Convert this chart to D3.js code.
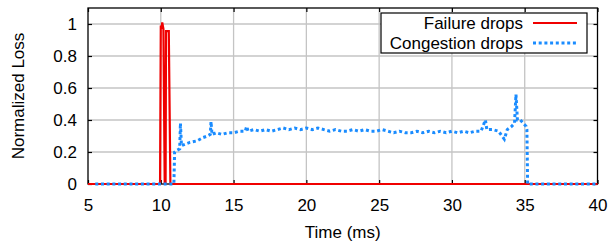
<!DOCTYPE html>
<html lang="en">
<head>
<meta charset="utf-8">
<title>Loss</title>
<script src="https://d3js.org/d3.v7.min.js"></script>
<style>
  body { margin: 0; background: #fff; }
  svg { display: block; font-family: "Liberation Sans", Arial, sans-serif; }
  .grid line { stroke: #c4c4c4; stroke-width: 1.3; }
  .axis path { display: none; }
  .axis line { stroke: #000; stroke-width: 1.2; }
  .axis text { font-size: 17px; fill: #000; font-family: "Liberation Sans", Arial, sans-serif; }
</style>
</head>
<body>
<script>
// data
var xTicks = [5, 10, 15, 20, 25, 30, 35, 40];
var yTicks = [0, 0.2, 0.4, 0.6, 0.8, 1];

var failureTime = [5, 9.95, 10.0, 10.05, 10.1, 10.18, 10.27, 10.33, 10.36, 10.55, 10.66, 40];
var failureLoss = [0, 0, 0.99, 0.97, 1.01, 0.97, 0, 0, 0.955, 0.955, 0, 0];

var congestionTime = [5.5, 10.9, 10.95, 11.1, 11.3, 11.35, 11.42, 11.7, 12.0, 12.5, 12.9, 13.2, 13.4, 13.45, 13.52,
  13.8, 14.2, 14.6, 15.0, 15.4, 15.8, 15.9, 16.0, 16.4, 16.8, 17.2, 17.6, 18.0, 18.4, 18.8, 19.2, 19.6,
  20.0, 20.4, 20.8, 21.2, 21.6, 22.0, 22.4, 22.8, 23.2, 23.6, 24.0, 24.4, 24.8, 25.2, 25.6, 26.0, 26.4,
  26.8, 27.2, 27.6, 28.0, 28.4, 28.8, 29.2, 29.6, 30.0, 30.4, 30.8, 31.2, 31.6, 32.0, 32.3, 32.4, 32.8,
  33.2, 33.6, 33.8, 34.1, 34.3, 34.4, 34.5, 34.7, 34.9, 35.1, 35.15, 35.2, 40];
var congestionLoss = [0, 0, 0.2, 0.21, 0.22, 0.38, 0.24, 0.25, 0.26, 0.27, 0.29, 0.30, 0.31, 0.39, 0.31,
  0.32, 0.31, 0.32, 0.32, 0.33, 0.33, 0.36, 0.33, 0.34, 0.33, 0.34, 0.33, 0.34, 0.35, 0.34, 0.35, 0.34,
  0.35, 0.34, 0.35, 0.34, 0.33, 0.34, 0.33, 0.33, 0.34, 0.33, 0.34, 0.33, 0.33, 0.34, 0.33, 0.32, 0.33,
  0.32, 0.32, 0.33, 0.32, 0.33, 0.32, 0.33, 0.32, 0.33, 0.32, 0.33, 0.32, 0.33, 0.33, 0.40, 0.34, 0.34,
  0.33, 0.28, 0.34, 0.36, 0.38, 0.56, 0.40, 0.40, 0.38, 0.36, 0.34, 0, 0];

var legendLabels = ["Failure drops", "Congestion drops"];

var W = 608, H = 244;
var mLeft = 88, mRight = 597.5, mTop = 8, mBottom = 184;

var x = d3.scaleLinear().domain([5, 40]).range([mLeft, mRight]);
var y = d3.scaleLinear().domain([0, 1.1]).range([mBottom, mTop]);

var svg = d3.select("body").append("svg").attr("width", W).attr("height", H);

// gridlines
var grid = svg.append("g").attr("class", "grid");
grid.selectAll(".gx").data(xTicks.slice(1, -1)).enter().append("line")
  .attr("x1", d => x(d)).attr("x2", d => x(d)).attr("y1", mTop).attr("y2", mBottom);
grid.selectAll(".gy").data(yTicks.slice(1)).enter().append("line")
  .attr("x1", mLeft).attr("x2", mRight).attr("y1", d => y(d)).attr("y2", d => y(d));

// axes, ticks point inward
svg.append("g").attr("class", "axis").attr("transform", "translate(0," + mBottom + ")")
  .call(d3.axisBottom(x).tickValues(xTicks).tickSize(-4).tickPadding(15).tickFormat(d3.format("d")));
svg.append("g").attr("class", "axis").attr("transform", "translate(0," + mTop + ")")
  .call(d3.axisTop(x).tickValues(xTicks).tickSize(-4).tickFormat(""));
svg.append("g").attr("class", "axis").attr("transform", "translate(" + mLeft + ",0)")
  .call(d3.axisLeft(y).tickValues(yTicks).tickSize(-4).tickPadding(11).tickFormat(d3.format("~g")));
svg.append("g").attr("class", "axis").attr("transform", "translate(" + mRight + ",0)")
  .call(d3.axisRight(y).tickValues(yTicks).tickSize(-4).tickFormat(""));

// frame
svg.append("rect").attr("x", mLeft).attr("y", mTop)
  .attr("width", mRight - mLeft).attr("height", mBottom - mTop)
  .attr("fill", "none").attr("stroke", "#000").attr("stroke-width", 1.3);

var line = d3.line().x(d => x(d[0])).y(d => y(d[1]));

svg.append("path")
  .datum(failureTime.map((t, i) => [t, failureLoss[i]]))
  .attr("d", line).attr("fill", "none")
  .attr("stroke", "#f00000").attr("stroke-width", 2.2);

svg.append("path")
  .datum(congestionTime.map((t, i) => [t, congestionLoss[i]]))
  .attr("d", line).attr("fill", "none")
  .attr("stroke", "#1a8cff").attr("stroke-width", 3)
  .attr("stroke-dasharray", "3,2.7");

// axis titles
svg.append("text").attr("x", (mLeft + mRight) / 2).attr("y", 238)
  .attr("text-anchor", "middle").attr("font-size", 17).text("Time (ms)");
svg.append("text").attr("transform", "translate(24,96) rotate(-90)")
  .attr("text-anchor", "middle").attr("font-size", 17).text("Normalized Loss");

// legend
var lg = svg.append("g");
lg.append("rect").attr("x", 381).attr("y", 13).attr("width", 206).attr("height", 40)
  .attr("fill", "#fff").attr("stroke", "#000").attr("stroke-width", 1.2);
var rows = [{stroke: "#f00000", width: 2.2, dash: null}, {stroke: "#1a8cff", width: 3, dash: "3,2.7"}];
legendLabels.forEach(function (lab, i) {
  var cy = 23 + i * 20;
  lg.append("text").attr("x", 523).attr("y", cy).attr("dy", "0.35em")
    .attr("text-anchor", "end").attr("font-size", 17).text(lab);
  lg.append("line").attr("x1", 533).attr("x2", 577).attr("y1", cy).attr("y2", cy)
    .attr("stroke", rows[i].stroke).attr("stroke-width", rows[i].width)
    .attr("stroke-dasharray", rows[i].dash);
});
</script>
</body>
</html>
